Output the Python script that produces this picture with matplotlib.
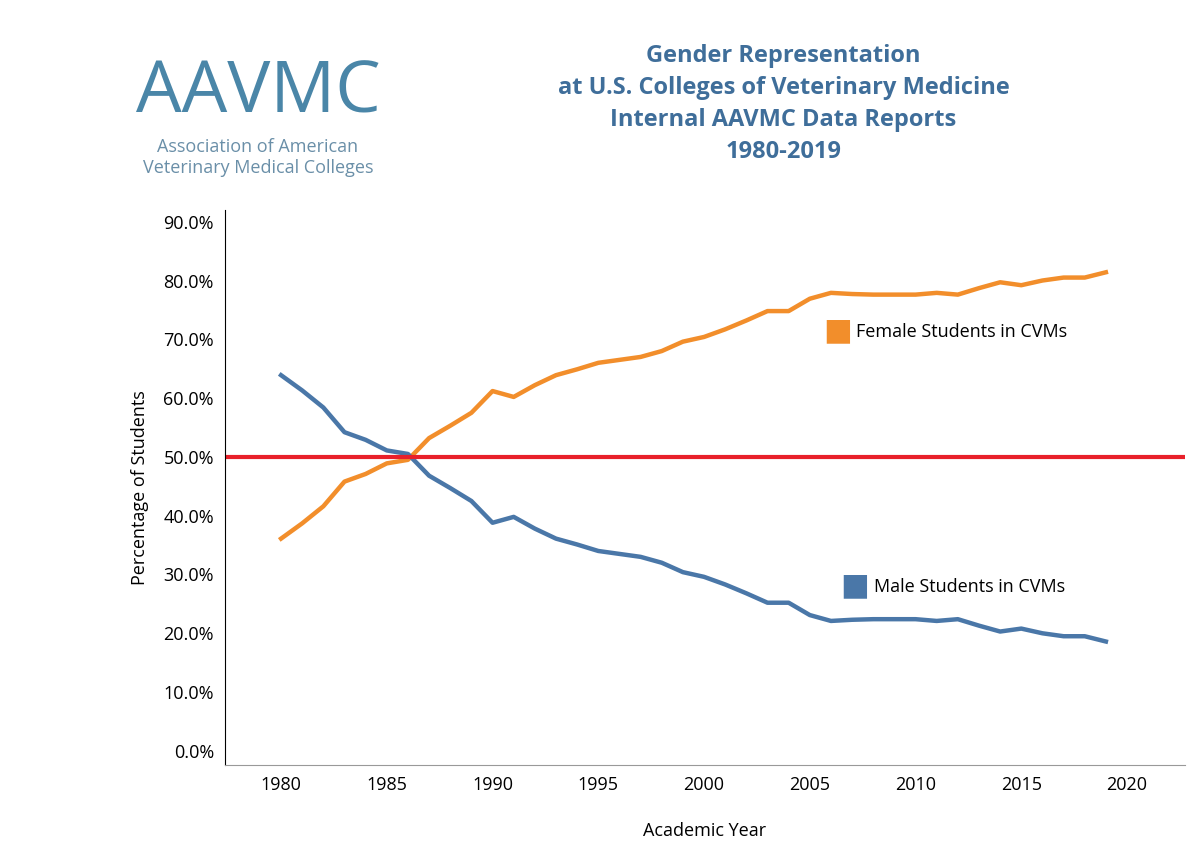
import matplotlib
matplotlib.use("Agg")
import matplotlib.pyplot as plt
from matplotlib.ticker import FuncFormatter

plt.rcParams['font.family'] = ['Open Sans', 'DejaVu Sans']

years = list(range(1980, 2020))
female = [36.1, 38.7, 41.6, 45.8, 47.1, 48.9, 49.5, 53.2, 55.3, 57.5,
          61.2, 60.2, 62.2, 63.9, 64.9, 66.0, 66.5, 67.0, 68.0, 69.6,
          70.4, 71.7, 73.2, 74.8, 74.8, 76.9, 77.9, 77.7, 77.6, 77.6,
          77.6, 77.9, 77.6, 78.7, 79.7, 79.2, 80.0, 80.5, 80.5, 81.4]
male = [63.9, 61.3, 58.4, 54.2, 52.9, 51.1, 50.5, 46.8, 44.7, 42.5,
        38.8, 39.8, 37.8, 36.1, 35.1, 34.0, 33.5, 33.0, 32.0, 30.4,
        29.6, 28.3, 26.8, 25.2, 25.2, 23.1, 22.1, 22.3, 22.4, 22.4,
        22.4, 22.1, 22.4, 21.3, 20.3, 20.8, 20.0, 19.5, 19.5, 18.6]
yticks = [0, 10, 20, 30, 40, 50, 60, 70, 80, 90]
xticks = [1980, 1985, 1990, 1995, 2000, 2005, 2010, 2015, 2020]

orange = '#F28E2B'
blue = '#4A77A8'
title_col = '#3F6E9A'

fig = plt.figure(figsize=(12, 8.5), dpi=100)
ax = fig.add_axes([0.1875, 0.1, 0.80, 0.653])
ax.plot(years, female, color=orange, lw=3.2)
ax.plot(years, male, color=blue, lw=3.2)
ax.axhline(50, color='#E8202A', lw=3)
ax.set_xlim(1977.35, 2022.74)
ax.set_ylim(-2.4, 92)
ax.set_yticks(yticks)
ax.yaxis.set_major_formatter(FuncFormatter(lambda v, p: f"{v:.1f}%"))
ax.set_xticks(xticks)
ax.tick_params(labelsize=13, length=0, pad=8)
for s in ['top', 'right']:
    ax.spines[s].set_visible(False)
ax.spines['left'].set_color('black')
ax.spines['bottom'].set_color('#999999')
ax.set_ylabel('Percentage of Students', fontsize=13, labelpad=10)
ax.set_xlabel('Academic Year', fontsize=13, labelpad=20)

# legend-like labels
fig.text(0.686, 0.610, '■', color=orange, fontsize=22, va='center')
fig.text(0.713, 0.609, 'Female Students in CVMs', fontsize=13, va='center')
fig.text(0.700, 0.310, '■', color=blue, fontsize=22, va='center')
fig.text(0.728, 0.309, 'Male Students in CVMs', fontsize=13, va='center')

fig.text(0.653, 0.878, 'Gender Representation\nat U.S. Colleges of Veterinary Medicine\nInternal AAVMC Data Reports\n1980-2019',
         ha='center', va='center', fontsize=17, fontweight='bold', color=title_col, linespacing=1.45)

# logo
fig.text(0.215, 0.89, 'AAVMC', ha='center', va='center', fontsize=52, color='#4A86A8')
fig.text(0.215, 0.815, 'Association of American\nVeterinary Medical Colleges', ha='center', va='center',
         fontsize=13, color='#6A8FA8', linespacing=1.2)

fig.savefig('out.png', dpi=100)
